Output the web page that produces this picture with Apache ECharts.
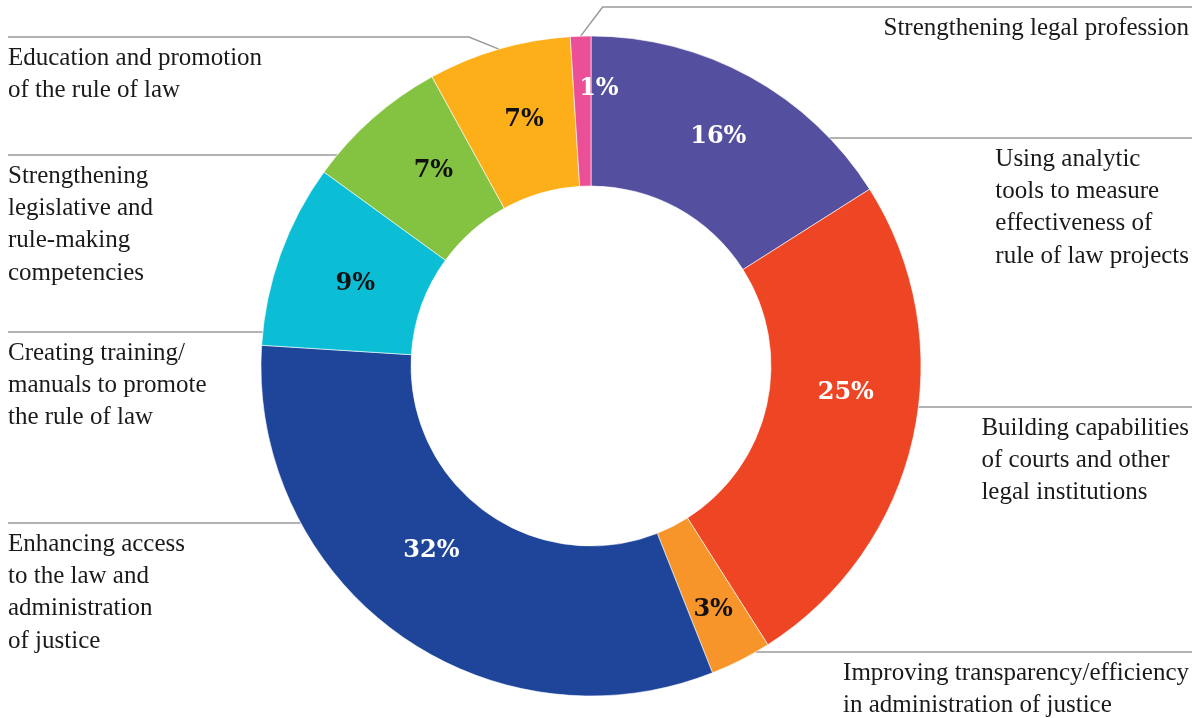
<!DOCTYPE html>
<html><head><meta charset="utf-8">
<script src="https://cdn.jsdelivr.net/npm/echarts@6/dist/echarts.min.js"></script>
<style>html,body{margin:0;padding:0;background:#fff}#main{width:1201px;height:718px}</style>
</head><body><div id="main"></div>
<script>
// ---- data ----
const categories = [
  'Using analytic\ntools to measure\neffectiveness of\nrule of law projects',
  'Building capabilities\nof courts and other\nlegal institutions',
  'Improving transparency/efficiency\nin administration of justice',
  'Enhancing access\nto the law and\nadministration\nof justice',
  'Creating training/\nmanuals to promote\nthe rule of law',
  'Strengthening\nlegislative and\nrule-making\ncompetencies',
  'Education and promotion\nof the rule of law',
  'Strengthening legal profession'
];
const shares = [16, 25, 3, 32, 9, 7, 7, 1];

// ---- styles ----
const colors = ['#544F9F', '#EE4524', '#F7952B', '#1E4599', '#0BBED5', '#84C242', '#FCAF18', '#EA4F97'];
const percentLabelColors = ['#fff', '#fff', '#111', '#fff', '#111', '#111', '#111', '#fff'];

// ---- layout ----
const CX = 591, CY = 366, R_IN = 180, R_OUT = 330;
const LEFT_EDGE = 8, RIGHT_EDGE = 1192, RIGHT_TEXT_EDGE = 1189;
const leaderRows = [138, 407, 652, 523, 332, 155, 37, 7];
const leaderSides = ['R', 'R', 'R', 'L', 'L', 'L', 'L', 'R'];
const pctLabelNudge = [[3, -3], [3, -30], [5, 14], [-8, -24], [7, 5], [13, -2], [5, 2], [16, -19]];
const SERIF = 'Liberation Serif';

const chart = echarts.init(document.getElementById('main'), null, { renderer: 'canvas' });

const coloredData = shares.map((v, i) => ({
  name: categories[i], value: v,
  itemStyle: { color: colors[i] },
  label: { color: percentLabelColors[i] }
}));
const ghostData = shares.map((v, i) => ({ name: categories[i], value: v }));

chart.setOption({
  backgroundColor: '#fff',
  animation: false,
  series: [
    {
      type: 'pie',
      center: [CX, CY],
      radius: [R_IN, R_OUT],
      startAngle: 90,
      clockwise: true,
      silent: true,
      avoidLabelOverlap: false,
      itemStyle: { borderColor: '#fff', borderWidth: 0.6 },
      label: {
        show: true,
        position: 'inside',
        formatter: '{c}%',
        fontFamily: 'DejaVu Serif',
        fontWeight: 'bold',
        fontSize: 24
      },
      labelLine: { show: false },
      labelLayout: function (p) {
        const n = pctLabelNudge[p.dataIndex];
        return { dx: n[0], dy: n[1] };
      },
      data: coloredData
    },
    {
      type: 'pie',
      center: [CX, CY],
      radius: [R_IN, R_OUT],
      startAngle: 90,
      clockwise: true,
      silent: true,
      avoidLabelOverlap: false,
      itemStyle: { color: 'rgba(0,0,0,0)' },
      label: {
        show: true,
        position: 'outside',
        formatter: '{b}',
        fontFamily: SERIF,
        fontSize: 25,
        lineHeight: 32.3,
        color: '#1a1a1a'
      },
      labelLine: {
        show: true,
        length: 10,
        length2: 10,
        lineStyle: { color: '#9a9a9a', width: 1.5 }
      },
      labelLayout: function (p) {
        const i = p.dataIndex;
        const y = leaderRows[i];
        const right = leaderSides[i] === 'R';
        const edgeX = right ? RIGHT_EDGE : LEFT_EDGE;
        let pts;
        if (Math.abs(y - CY) < R_OUT * 0.95) {
          const ax = CX + (right ? 1 : -1) * Math.sqrt(R_OUT * R_OUT - (y - CY) * (y - CY));
          pts = [[ax, y], [ax, y], [edgeX, y]];
        } else {
          const a = (p.labelLinePoints && p.labelLinePoints[0]) || [CX, CY - R_OUT];
          const kx = a[0] + (right ? 22 : -30);
          pts = [[a[0], a[1]], [kx, y], [edgeX, y]];
        }
        return {
          x: right ? RIGHT_TEXT_EDGE - p.labelRect.width : LEFT_EDGE,
          y: y + 5,
          align: 'left',
          verticalAlign: 'top',
          labelLinePoints: pts
        };
      },
      data: ghostData
    }
  ]
});
</script>
</body></html>
